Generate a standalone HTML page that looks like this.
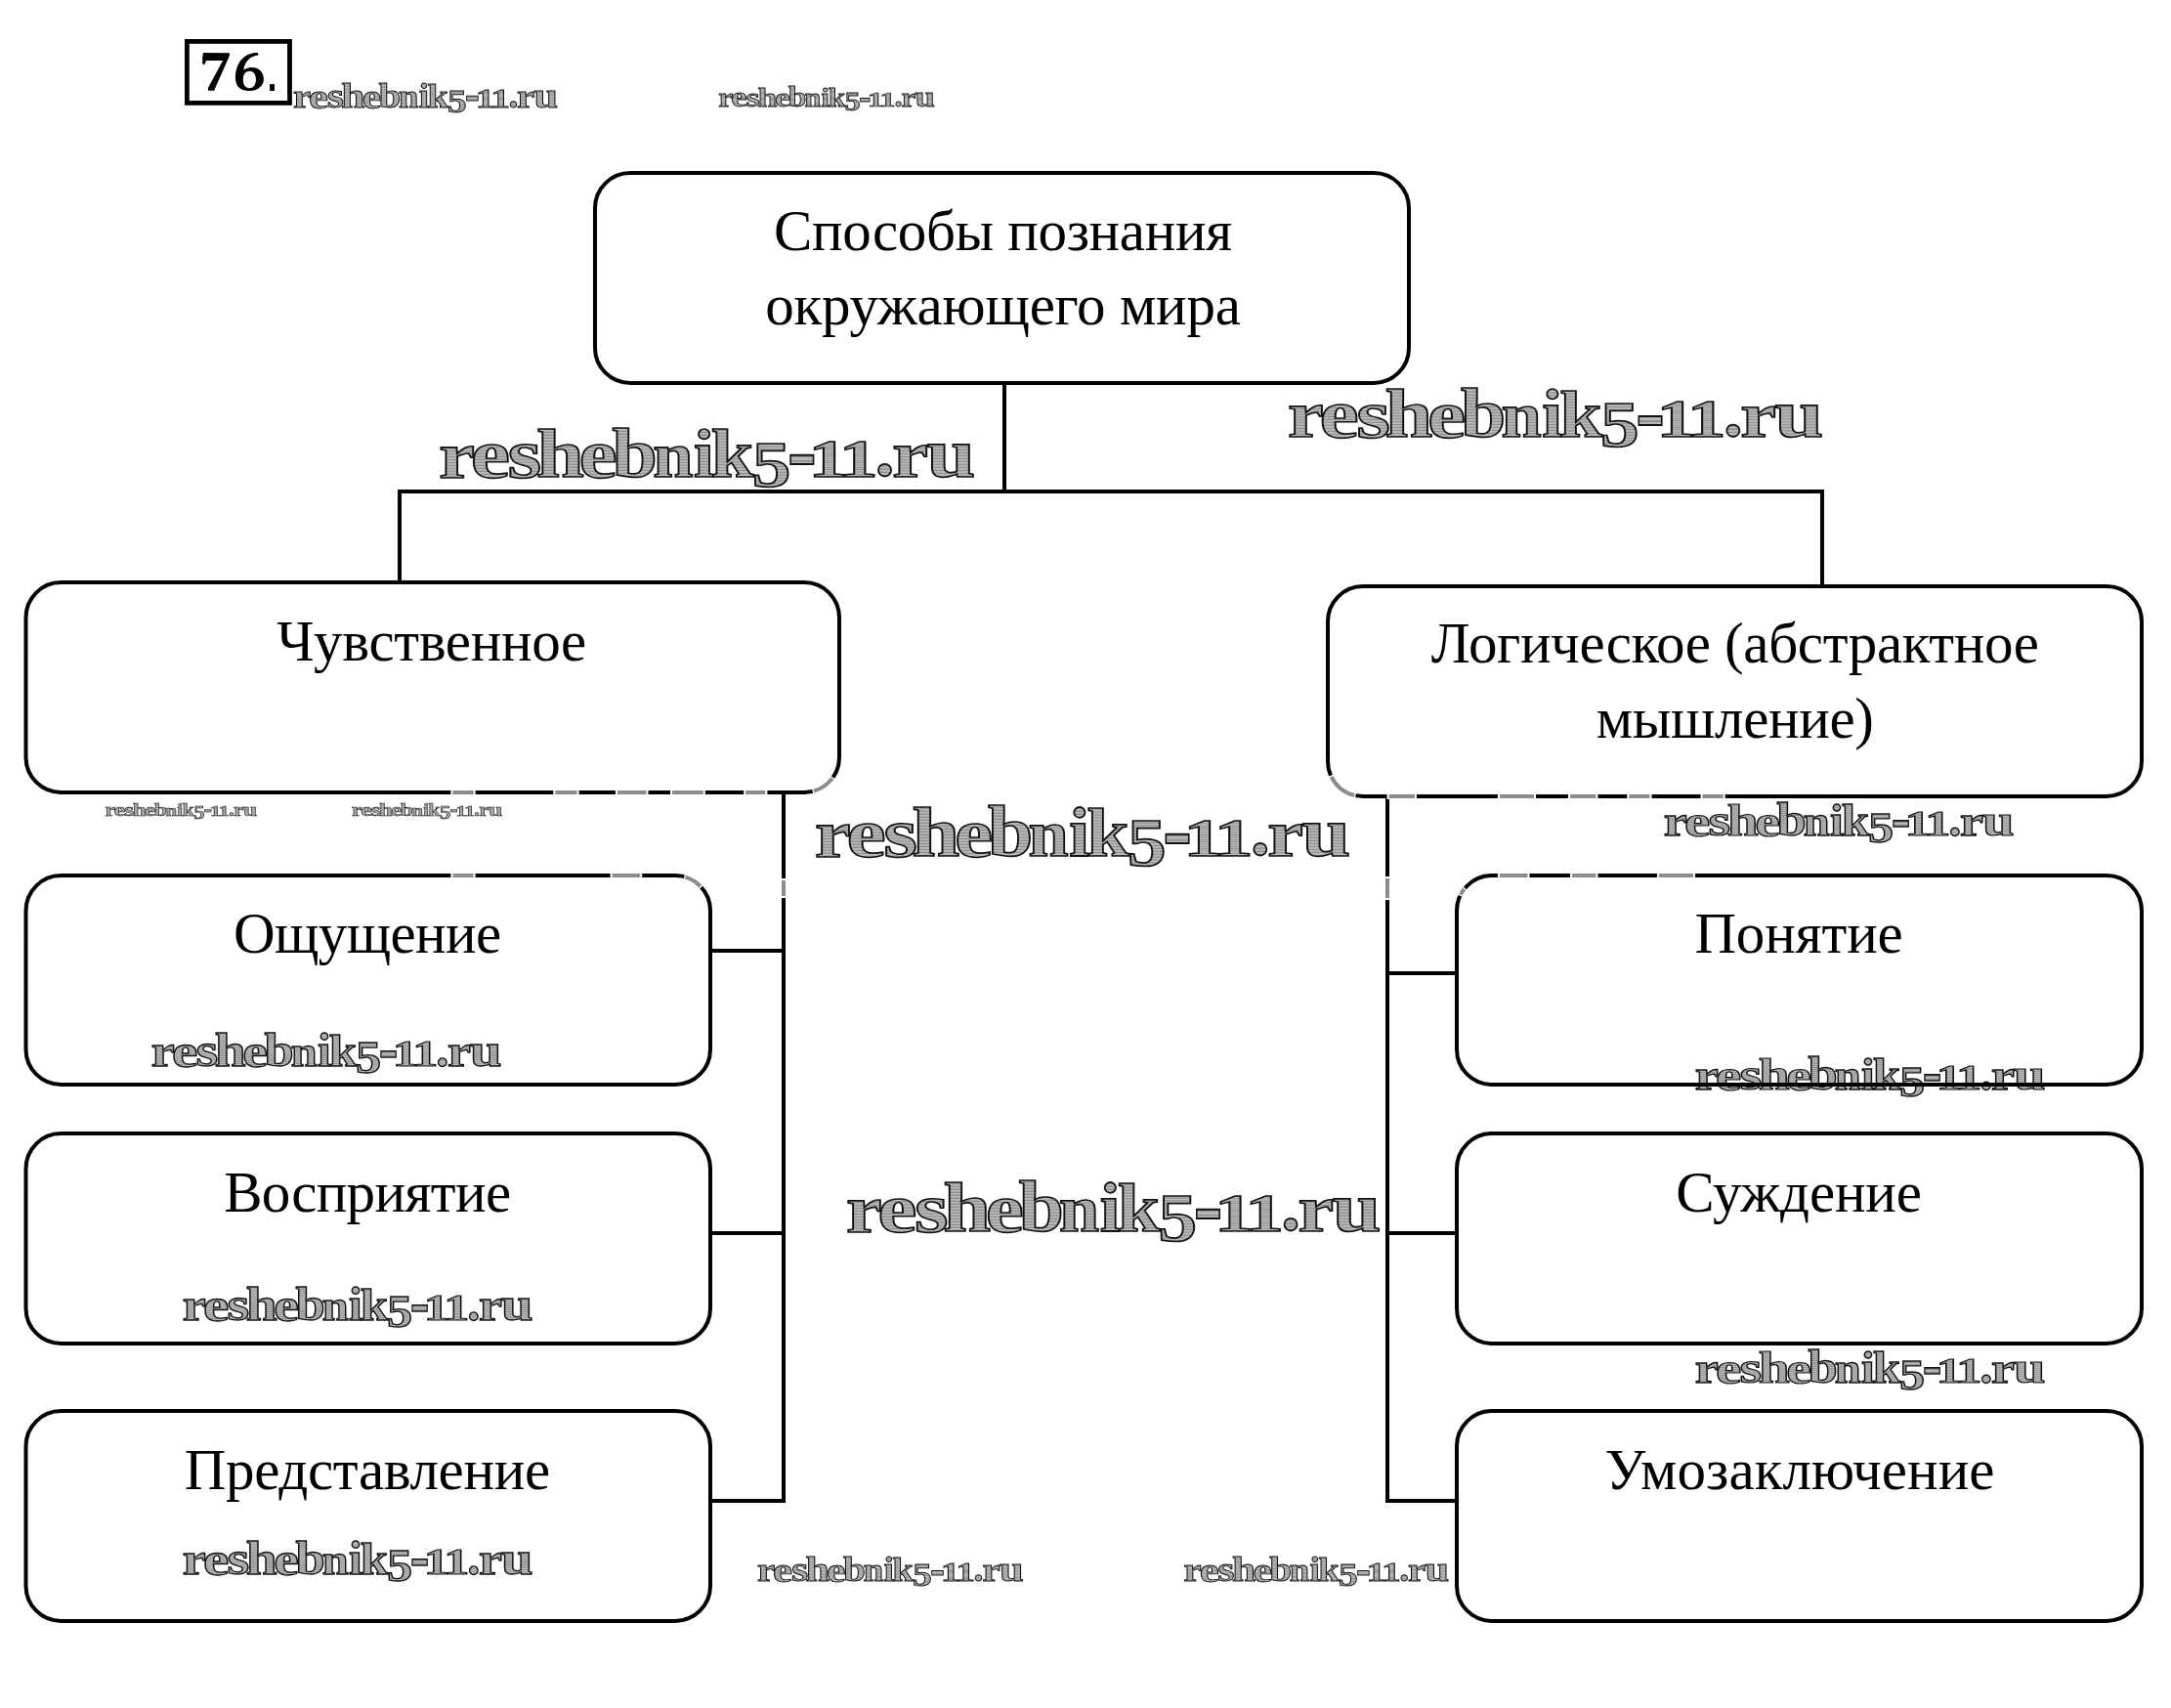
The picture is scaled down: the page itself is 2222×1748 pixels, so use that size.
<!DOCTYPE html>
<html><head><meta charset="utf-8"><style>
html,body{margin:0;padding:0;background:#fff;}
body{width:2222px;height:1748px;overflow:hidden;}
svg{display:block;will-change:transform;}
.t{font-family:"Liberation Serif",serif;fill:#000;}
#wm text{font-family:"Liberation Serif",serif;font-weight:bold;fill:url(#hatch);stroke:#111;vector-effect:non-scaling-stroke;}
</style></head><body>
<svg width="2222" height="1748" viewBox="0 0 2222 1748">
<defs><pattern id="hatch" patternUnits="userSpaceOnUse" width="40" height="8.5"><rect width="40" height="8.5" fill="#b9b9b9"/><rect y="5.5" width="40" height="3" fill="#8a8a8a"/></pattern>
<g id="wm">
<text transform="translate(-2.07,0.50) scale(0.4139,0.3426)" font-size="200">r</text>
<text transform="translate(30.42,1.18) scale(0.4545,0.3604)" font-size="200">e</text>
<text transform="translate(68.21,0.69) scale(0.4478,0.3552)" font-size="200">s</text>
<text transform="translate(97.71,0.00) scale(0.4388,0.3536)" font-size="200">h</text>
<text transform="translate(141.11,1.19) scale(0.4416,0.3552)" font-size="200">e</text>
<text transform="translate(175.15,0.27) scale(0.4170,0.3643)" font-size="200">b</text>
<text transform="translate(216.75,0.00) scale(0.3709,0.3330)" font-size="200">n</text>
<text transform="translate(258.50,0.00) scale(0.3755,0.3536)" font-size="200">i</text>
<text transform="translate(276.44,0.00) scale(0.3915,0.3471)" font-size="200">k</text>
<text transform="translate(318.10,10.41) scale(0.4000,0.3429)" font-size="200">5</text>
<text transform="translate(354.44,7.66) scale(0.4519,0.5412)" font-size="200">-</text>
<text transform="translate(376.02,0.00) scale(0.3986,0.2740)" font-size="200">1</text>
<text transform="translate(407.32,0.00) scale(0.3986,0.2740)" font-size="200">1</text>
<text transform="translate(444.17,-0.66) scale(0.4031,0.3875)" font-size="200">.</text>
<text transform="translate(461.83,0.00) scale(0.4139,0.3372)" font-size="200">r</text>
<text transform="translate(497.16,0.28) scale(0.4476,0.3585)" font-size="200">u</text>
</g></defs>
<rect x="191.4" y="42.4" width="105.1" height="63" fill="none" stroke="#000" stroke-width="4.8"/><path fill="#000" d="M208,53.9 L234.9,54.2 L234.9,57 L219.1,92.8 L212.9,92.8 L212.9,90 L228.1,62 L211.2,62 C210.5,63.5 210,64.5 209.8,65.7 L207.2,65.7 L207.2,58.2 Z"/><path fill="#000" fill-rule="evenodd" d="M260.2,53.9 C255,54.8 249,58 245.8,62.6 C242.5,67.5 240.9,73 240.9,79 C240.9,87.5 245,93 255,93 C264,93 269.9,87.5 269.9,80.9 C269.9,74 265,69.1 258,69.1 C254,69.1 251,70.2 249.2,71.6 C250,66 252.5,62 256,59.5 C258.5,57.6 261.5,56.8 264.7,56.5 L263.8,53.9 Z M255.3,72.8 C251,72.8 248.8,76.5 248.8,81.5 C248.8,87 251.5,90.2 255.3,90.2 C259.5,90.2 261.9,86.5 261.9,81.5 C261.9,76 259.3,72.8 255.3,72.8 Z"/><rect x="276.1" y="86.1" width="4.9" height="6.9" fill="#000"/>
<use href="#wm" transform="translate(301.0,110.0) scale(0.4939,0.5000)" stroke-width="1.0"/>
<use href="#wm" transform="translate(736.0,109.0) scale(0.4040,0.3975)" stroke-width="0.9"/>
<use href="#wm" transform="translate(451.4,488.0) scale(1.0000,1.0000)" stroke-width="1.8"/>
<use href="#wm" transform="translate(1320.0,447.0) scale(0.9989,0.9836)" stroke-width="1.8"/>
<use href="#wm" transform="translate(108.0,835.0) scale(0.2837,0.2664)" stroke-width="0.6"/>
<use href="#wm" transform="translate(360.6,835.0) scale(0.2809,0.2664)" stroke-width="0.6"/>
<use href="#wm" transform="translate(836.0,876.0) scale(0.9989,1.0041)" stroke-width="1.8"/>
<use href="#wm" transform="translate(1704.0,855.0) scale(0.6537,0.6557)" stroke-width="1.4"/>
<use href="#wm" transform="translate(156.0,1091.0) scale(0.6537,0.6762)" stroke-width="1.4"/>
<use href="#wm" transform="translate(1736.0,1115.0) scale(0.6537,0.6557)" stroke-width="1.4"/>
<use href="#wm" transform="translate(868.0,1260.0) scale(0.9971,1.0041)" stroke-width="1.8"/>
<use href="#wm" transform="translate(188.0,1351.0) scale(0.6537,0.6762)" stroke-width="1.4"/>
<use href="#wm" transform="translate(1736.0,1415.0) scale(0.6537,0.6557)" stroke-width="1.4"/>
<use href="#wm" transform="translate(188.0,1611.0) scale(0.6537,0.6762)" stroke-width="1.4"/>
<use href="#wm" transform="translate(776.0,1618.0) scale(0.4967,0.4918)" stroke-width="1.0"/>
<use href="#wm" transform="translate(1212.6,1618.0) scale(0.4947,0.4918)" stroke-width="1.0"/>
<rect x="609.0" y="177.0" width="833" height="215" rx="36.0" ry="36.0" fill="none" stroke="#000" stroke-width="4"/>
<rect x="26.5" y="596.0" width="832.5" height="215" rx="36.0" ry="36.0" fill="none" stroke="#000" stroke-width="4"/>
<rect x="1359.0" y="600.0" width="833" height="215" rx="36.0" ry="36.0" fill="none" stroke="#000" stroke-width="4"/>
<rect x="26.5" y="896.0" width="700.5" height="214" rx="36.0" ry="36.0" fill="none" stroke="#000" stroke-width="4"/>
<rect x="1491.0" y="896.0" width="701" height="214" rx="36.0" ry="36.0" fill="none" stroke="#000" stroke-width="4"/>
<rect x="26.5" y="1160.0" width="700.5" height="215" rx="36.0" ry="36.0" fill="none" stroke="#000" stroke-width="4"/>
<rect x="1491.0" y="1160.0" width="701" height="215" rx="36.0" ry="36.0" fill="none" stroke="#000" stroke-width="4"/>
<rect x="26.5" y="1444.0" width="700.5" height="215" rx="36.0" ry="36.0" fill="none" stroke="#000" stroke-width="4"/>
<rect x="1491.0" y="1444.0" width="701" height="215" rx="36.0" ry="36.0" fill="none" stroke="#000" stroke-width="4"/>
<rect x="1026" y="392" width="4" height="113" fill="#000"/>
<rect x="407" y="501" width="1460" height="4" fill="#000"/>
<rect x="407" y="501" width="4" height="95" fill="#000"/>
<rect x="1863" y="501" width="4" height="99" fill="#000"/>
<rect x="800" y="811" width="4" height="727" fill="#000"/>
<rect x="727" y="971" width="77" height="4" fill="#000"/>
<rect x="727" y="1260" width="77" height="4" fill="#000"/>
<rect x="727" y="1534" width="77" height="4" fill="#000"/>
<rect x="1418" y="815" width="4" height="723" fill="#000"/>
<rect x="1418" y="994" width="73" height="4" fill="#000"/>
<rect x="1418" y="1260" width="73" height="4" fill="#000"/>
<rect x="1418" y="1534" width="73" height="4" fill="#000"/>
<rect x="461.4" y="808" width="25.200000000000045" height="6" fill="#fff"/>
<rect x="463.4" y="809" width="21.200000000000045" height="4" fill="#8c8c8c"/>
<rect x="566.3" y="808" width="26.300000000000068" height="6" fill="#fff"/>
<rect x="568.3" y="809" width="22.300000000000068" height="4" fill="#8c8c8c"/>
<rect x="629.9" y="808" width="33.60000000000002" height="6" fill="#fff"/>
<rect x="631.9" y="809" width="29.600000000000023" height="4" fill="#8c8c8c"/>
<rect x="686" y="808" width="35.799999999999955" height="6" fill="#fff"/>
<rect x="688" y="809" width="31.799999999999955" height="4" fill="#8c8c8c"/>
<rect x="761.2" y="808" width="24.09999999999991" height="6" fill="#fff"/>
<rect x="763.2" y="809" width="20.09999999999991" height="4" fill="#8c8c8c"/>
<rect x="461.4" y="893" width="25.200000000000045" height="6" fill="#fff"/>
<rect x="463.4" y="894" width="21.200000000000045" height="4" fill="#8c8c8c"/>
<rect x="624.6" y="893" width="32.60000000000002" height="6" fill="#fff"/>
<rect x="626.6" y="894" width="28.600000000000023" height="4" fill="#8c8c8c"/>
<rect x="799" y="899" width="6" height="20" fill="#fff"/>
<rect x="800" y="901" width="4" height="16" fill="#8c8c8c"/>
<rect x="1419.6" y="812" width="30.40000000000009" height="6" fill="#fff"/>
<rect x="1421.6" y="813" width="26.40000000000009" height="4" fill="#8c8c8c"/>
<rect x="1533" y="812" width="39" height="6" fill="#fff"/>
<rect x="1535" y="813" width="35" height="4" fill="#8c8c8c"/>
<rect x="1605" y="812" width="30.40000000000009" height="6" fill="#fff"/>
<rect x="1607" y="813" width="26.40000000000009" height="4" fill="#8c8c8c"/>
<rect x="1665.3" y="812" width="25.200000000000045" height="6" fill="#fff"/>
<rect x="1667.3" y="813" width="21.200000000000045" height="4" fill="#8c8c8c"/>
<rect x="1740.5" y="812" width="25.200000000000045" height="6" fill="#fff"/>
<rect x="1742.5" y="813" width="21.200000000000045" height="4" fill="#8c8c8c"/>
<rect x="1533" y="893" width="32.5" height="6" fill="#fff"/>
<rect x="1535" y="894" width="28.5" height="4" fill="#8c8c8c"/>
<rect x="1607" y="893" width="28.40000000000009" height="6" fill="#fff"/>
<rect x="1609" y="894" width="24.40000000000009" height="4" fill="#8c8c8c"/>
<rect x="1696" y="893" width="39" height="6" fill="#fff"/>
<rect x="1698" y="894" width="35" height="4" fill="#8c8c8c"/>
<rect x="1417" y="897" width="6" height="24" fill="#fff"/>
<rect x="1418" y="899" width="4" height="20" fill="#8c8c8c"/>
<path d="M852.49,795.65 A36,36 0 0 1 831.71,809.93" fill="none" stroke="#fff" stroke-width="6"/>
<path d="M851.75,796.67 A36,36 0 0 1 832.92,809.61" fill="none" stroke="#8c8c8c" stroke-width="4"/>
<path d="M700.32,897.23 A36,36 0 0 1 717.75,907.91" fill="none" stroke="#fff" stroke-width="6"/>
<path d="M701.53,897.57 A36,36 0 0 1 716.90,906.99" fill="none" stroke="#8c8c8c" stroke-width="4"/>
<path d="M1387.52,814.21 A36,36 0 0 1 1362.11,793.64" fill="none" stroke="#fff" stroke-width="6"/>
<path d="M1386.29,813.93 A36,36 0 0 1 1362.64,794.78" fill="none" stroke="#8c8c8c" stroke-width="4"/>
<path d="M1494.37,916.79 A36,36 0 0 1 1499.42,908.86" fill="none" stroke="#fff" stroke-width="6"/>
<path d="M1494.92,915.66 A36,36 0 0 1 1498.63,909.84" fill="none" stroke="#8c8c8c" stroke-width="4"/>
<text x="1026.5" y="256" font-size="59" letter-spacing="-0.35" text-anchor="middle" class="t">Способы познания</text>
<text x="1026.5" y="332" font-size="59" letter-spacing="-0.22" text-anchor="middle" class="t">окружающего мира</text>
<text x="441.5" y="676" font-size="59" letter-spacing="-0.35" text-anchor="middle" class="t">Чувственное</text>
<text x="1775.7" y="678" font-size="59" letter-spacing="-0.35" text-anchor="middle" class="t">Логическое (абстрактное</text>
<text x="1775.7" y="754.5" font-size="59" letter-spacing="-0.35" text-anchor="middle" class="t">мышление)</text>
<text x="375.8" y="975" font-size="59" letter-spacing="-0.64" text-anchor="middle" class="t">Ощущение</text>
<text x="375.8" y="1240" font-size="59" letter-spacing="-0.66" text-anchor="middle" class="t">Восприятие</text>
<text x="375.8" y="1524" font-size="59" letter-spacing="-0.35" text-anchor="middle" class="t">Представление</text>
<text x="1841" y="975" font-size="59" letter-spacing="-0.18" text-anchor="middle" class="t">Понятие</text>
<text x="1841" y="1240" font-size="59" letter-spacing="-0.18" text-anchor="middle" class="t">Суждение</text>
<text x="1842" y="1524" font-size="59" letter-spacing="0.09" text-anchor="middle" class="t">Умозаключение</text>
</svg>
</body></html>
